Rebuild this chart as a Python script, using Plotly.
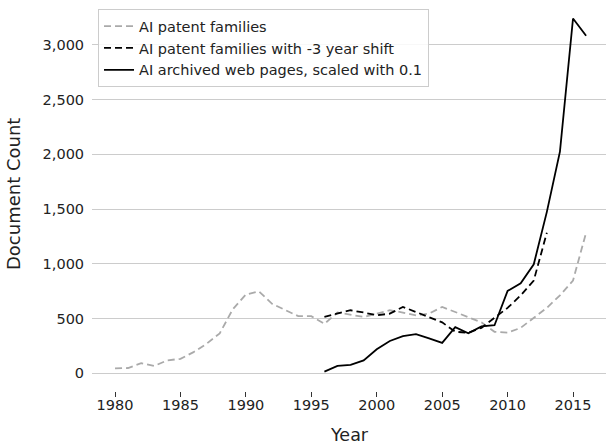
import plotly.graph_objects as go

years_patent = list(range(1980, 2017))
patent_families = [44, 48, 92, 67, 118, 132, 193, 270, 365, 585, 720, 748, 635, 580, 522, 522, 452,
                   555, 535, 515, 545, 576, 555, 530, 545, 606, 560, 515, 465,
                   379, 371, 415, 507, 598, 712, 848, 1285]

years_shift = list(range(1996, 2014))
patent_shifted = [515, 545, 576, 555, 530, 545, 606, 560, 515, 465, 379, 371, 415, 507, 598, 712, 848, 1285]

years_web = list(range(1996, 2017))
web_pages_scaled = [15, 67, 76, 118, 219, 295, 339, 357, 319, 278, 421, 365, 428, 439, 752, 822, 996,
                    1475, 2026, 3242, 3084]

x_ticks = [1980, 1985, 1990, 1995, 2000, 2005, 2010, 2015]
y_ticks = [0, 500, 1000, 1500, 2000, 2500, 3000]

FONT = "DejaVu Sans"

fig = go.Figure()
fig.add_trace(go.Scatter(x=years_patent, y=patent_families, mode="lines",
                         name="AI patent families",
                         line=dict(color="#aaaaaa", width=1.8, dash="7px,4px")))
fig.add_trace(go.Scatter(x=years_shift, y=patent_shifted, mode="lines",
                         name="AI patent families with -3 year shift",
                         line=dict(color="black", width=1.8, dash="7px,4px")))
fig.add_trace(go.Scatter(x=years_web, y=web_pages_scaled, mode="lines",
                         name="AI archived web pages, scaled with 0.1",
                         line=dict(color="black", width=1.8)))

fig.update_layout(
    width=606, height=446,
    margin=dict(l=92, r=0, t=1, b=55),
    plot_bgcolor="white", paper_bgcolor="white",
    font=dict(family=FONT, size=14, color="#222222"),
    showlegend=True,
    legend=dict(x=0.0117, y=0.979, xanchor="left", yanchor="top",
                bgcolor="rgba(255,255,255,0.85)", bordercolor="#cccccc", borderwidth=1,
                font=dict(family=FONT, size=14.5, color="#222222")),
    xaxis=dict(range=[1978.24, 2017.52], tickvals=x_ticks, showgrid=False, zeroline=False,
               showline=False, ticks="outside", ticklen=5, tickcolor="#333333", tickwidth=1,
               ticklabelstandoff=-4,
               tickfont=dict(family=FONT, size=14.5)),
    yaxis=dict(range=[-162, 3402], tickvals=y_ticks, tickformat=",", showgrid=True,
               gridcolor="#cccccc", gridwidth=1, zeroline=False, showline=False,
               ticks="outside", ticklen=4, tickcolor="rgba(0,0,0,0)",
               tickfont=dict(family=FONT, size=14.5)),
    annotations=[
        dict(text="Year", xref="paper", yref="paper", x=0.5, y=0, xanchor="center",
             yanchor="middle", yshift=-44, showarrow=False,
             font=dict(family=FONT, size=17.5, color="#222222")),
        dict(text="Document Count", xref="paper", yref="paper", x=0, y=0.5,
             xanchor="center", yanchor="middle", xshift=-79, yshift=2, textangle=-90,
             showarrow=False, font=dict(family=FONT, size=18, color="#222222")),
    ],
)

fig.write_html("out.html", config={"displayModeBar": False},
               post_script="document.body.style.margin='0';document.body.style.padding='0';")
